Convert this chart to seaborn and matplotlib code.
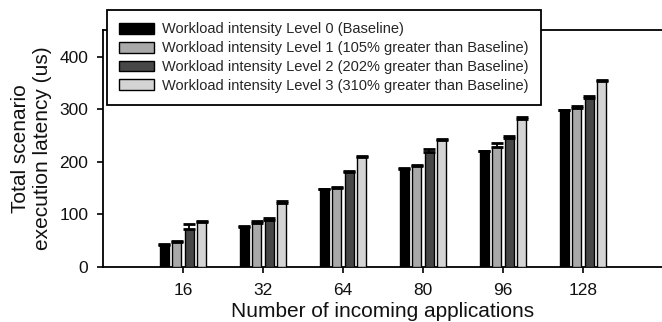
import matplotlib
matplotlib.use("Agg")
import matplotlib.pyplot as plt
import seaborn as sns
import pandas as pd
import numpy as np

categories = ["16", "32", "64", "80", "96", "128"]
levels = [
    "Workload intensity Level 0 (Baseline)",
    "Workload intensity Level 1 (105% greater than Baseline)",
    "Workload intensity Level 2 (202% greater than Baseline)",
    "Workload intensity Level 3 (310% greater than Baseline)",
]
level0 = [42, 77, 148, 187, 220, 298]
level1 = [48, 83, 150, 192, 228, 302]
level2 = [72, 90, 180, 218, 246, 321]
level3 = [86, 121, 209, 242, 281, 353]
err0 = [1, 1, 1, 1, 1, 1]
err1 = [2, 4, 2, 2, 8, 5]
err2 = [9, 3, 2, 7, 4, 5]
err3 = [2, 4, 2, 1, 5, 3]
colors = ["#000000", "#a9a9a9", "#474747", "#d4d4d4"]

values = [level0, level1, level2, level3]
errors = [err0, err1, err2, err3]

rows = []
for lev, vals in zip(levels, values):
    for c, v in zip(categories, vals):
        rows.append({"apps": c, "latency": v, "level": lev})
df = pd.DataFrame(rows)

sns.set_style("ticks")
plt.rcParams["font.family"] = ["Liberation Sans", "DejaVu Sans"]

fig = plt.figure(figsize=(6.62, 3.22), dpi=100)
ax = fig.add_axes([103 / 662, 55 / 322, 560 / 662, 237 / 322])

sns.barplot(data=df, x="apps", y="latency", hue="level", order=categories,
            hue_order=levels, palette=colors, edgecolor="black", linewidth=1.0,
            width=0.62, gap=0.25, errorbar=None, ax=ax, zorder=3)

for cont, errs in zip(ax.containers, errors):
    xs = [p.get_x() + p.get_width() / 2 for p in cont]
    hs = [p.get_height() for p in cont]
    ax.errorbar(xs, hs, yerr=[np.zeros(len(errs)), errs], fmt="none",
                ecolor="black", elinewidth=1.3, capsize=4.3, capthick=2, zorder=4)

ax.set_xlim(-1, 6)
ax.set_ylim(0, 451)
ax.set_yticks([0, 100, 200, 300, 400])
ax.tick_params(axis="both", direction="out", length=4.5, width=1.2,
               labelsize=12.5, color="black", labelcolor="#111111")
ax.tick_params(axis="x", pad=7)
ax.tick_params(axis="y", pad=6)
for s in ["left", "bottom", "top", "right"]:
    ax.spines[s].set_visible(True)
    ax.spines[s].set_linewidth(1.3)
    ax.spines[s].set_color("black")

ax.set_xlabel("Number of incoming applications", fontsize=15, labelpad=3, color="#111111")
ax.set_ylabel("Total scenario\nexecution latency (us)", fontsize=15, labelpad=5,
              color="#111111", linespacing=1.2)

handles, labels = ax.get_legend_handles_labels()
ax.legend(handles, labels, loc="upper left", bbox_to_anchor=(0.007, 1.084),
          borderaxespad=0, frameon=True, fancybox=False, framealpha=1,
          edgecolor="black", fontsize=10.5, handlelength=2.4, handleheight=0.75,
          labelspacing=0.33, handletextpad=0.55, borderpad=0.85)
ax.get_legend().get_frame().set_linewidth(1.3)

fig.savefig("out.png", dpi=100)
